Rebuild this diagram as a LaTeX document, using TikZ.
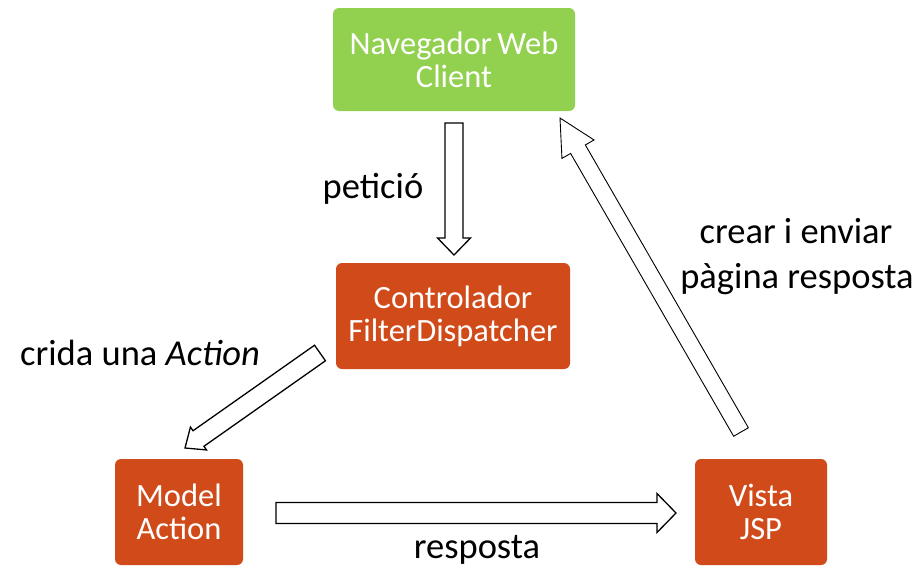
\documentclass[tikz,border=0pt]{standalone}
\usepackage{fontspec}
\setmainfont{Carlito}
\usetikzlibrary{calc}
\definecolor{webgreen}{HTML}{92D050}
\definecolor{mvcorange}{HTML}{D14B1A}
\tikzset{
  box/.style={rounded corners=6pt, minimum height=103pt, inner sep=0pt,
    text=white, align=center, font=\fontsize{32.5}{33}\selectfont},
  greenbox/.style={box, fill=webgreen},
  orangebox/.style={box, fill=mvcorange},
  lbl/.style={align=center, inner sep=0pt, font=\fontsize{36.5}{45}\selectfont},
  blockarrow/.style={draw=black, fill=white, line width=1.3pt, line join=miter},
}
% hollow block arrow: from, to, half shaft width, half head width, head length
\newcommand\hollowarrow[6][]{%
  \coordinate (ha-base) at ($(#3)!#6!(#2)$);
  \draw[blockarrow,#1] ($(#2)!#4!90:(#3)$)
    -- ($(ha-base)!#4!-90:(#2)$) -- ($(ha-base)!#5!-90:(#2)$)
    -- (#3)
    -- ($(ha-base)!#5!90:(#2)$) -- ($(ha-base)!#4!90:(#2)$)
    -- ($(#2)!#4!-90:(#3)$) -- cycle;}
\begin{document}
\begin{tikzpicture}[x=1pt,y=-1pt]
  \useasboundingbox (0,0) rectangle (924,570);
  % components
  \node[greenbox, minimum width=242pt] (client) at (454,59.5) {Navegador\hspace{-2pt} Web\\Client};
  \node[orangebox, minimum width=234pt, minimum height=106pt] (ctrl) at (453,316) {Controlador\\FilterDispatcher};
  \node[orangebox, minimum width=128pt, minimum height=106pt] (model) at (179,512) {Model\\Action};
  \node[orangebox, minimum width=132pt, minimum height=106pt] (view) at (761,512) {Vista\\JSP};
  % arrow end points
  \coordinate (req-s) at (454,123);   \coordinate (req-e) at (454,255);
  \coordinate (call-s) at (320,353);  \coordinate (call-e) at (185,448);
  \coordinate (resp-s) at (276,513);  \coordinate (resp-e) at (676,513);
  \coordinate (page-s) at (741,432);  \coordinate (page-e) at (560,118);
  % flows
  \hollowarrow{req-s}{req-e}{9pt}{16.5pt}{17pt}
  \hollowarrow{call-s}{call-e}{9.5pt}{14pt}{16.5pt}
  \hollowarrow{resp-s}{resp-e}{10.5pt}{19.5pt}{19pt}
  \hollowarrow[line width=0.9pt]{page-s}{page-e}{8.5pt}{18.5pt}{36pt}
  % labels
  \node[lbl, anchor=base] (l-req) at (373,198) {petició};
  \node[lbl, anchor=base] (l-call) at (140,365) {crida una \textit{Action}};
  \node[lbl, anchor=base] (l-resp) at (477,558) {resposta};
  \node[lbl, anchor=base] (l-page1) at (796,243) {crear i enviar};
  \node[lbl, anchor=base] (l-page2) at (797,288) {pàgina resposta};
\end{tikzpicture}
\end{document}
